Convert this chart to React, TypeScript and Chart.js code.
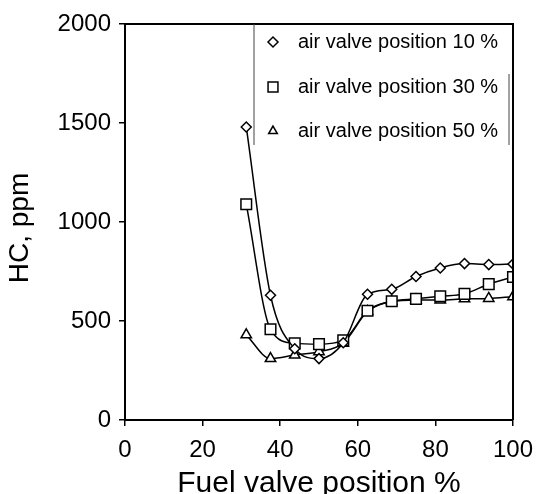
import React, { useEffect, useRef } from "react";
import { Chart, registerables } from "chart.js";

Chart.register(...registerables);

const fuelValve = [31.25, 37.5, 43.75, 50, 56.25, 62.5, 68.75, 75, 81.25, 87.5, 93.75, 100];
const hcAir10 = [1480, 630, 360, 310, 390, 635, 660, 725, 768, 790, 785, 788];
const hcAir30 = [1090, 458, 387, 383, 402, 552, 600, 612, 625, 637, 686, 722];
const hcAir50 = [430, 310, 328, 345, 388, 548, 598, 606, 606, 612, 614, 623];
const seriesLabels = ["air valve position 10 %", "air valve position 30 %", "air valve position 50 %"];
const markerStyles = ["rectRot", "rect", "triangle"];
const xTitle = "Fuel valve position %";
const yTitle = "HC, ppm";

const FONT = "'Liberation Sans', Arial, sans-serif";

function drawMarker(ctx: CanvasRenderingContext2D, style: string, x: number, y: number, r: number) {
  ctx.beginPath();
  if (style === "rectRot") {
    ctx.moveTo(x - r, y);
    ctx.lineTo(x, y - r);
    ctx.lineTo(x + r, y);
    ctx.lineTo(x, y + r);
    ctx.closePath();
  } else if (style === "rect") {
    const s = r * Math.SQRT1_2;
    ctx.rect(x - s, y - s, 2 * s, 2 * s);
  } else {
    const a = (2 * Math.PI) / 3;
    ctx.moveTo(x, y - r);
    ctx.lineTo(x + Math.sin(a) * r, y - Math.cos(a) * r);
    ctx.lineTo(x + Math.sin(2 * a) * r, y - Math.cos(2 * a) * r);
    ctx.closePath();
  }
  ctx.fillStyle = "#fff";
  ctx.fill();
  ctx.stroke();
}

const framePlugin = {
  id: "frameAndLegend",
  afterDraw(chart: any) {
    const { ctx, chartArea } = chart;
    const { left, right, top, bottom } = chartArea;
    ctx.save();
    ctx.strokeStyle = "#000";
    ctx.lineWidth = 2;
    ctx.beginPath();
    ctx.moveTo(left, top);
    ctx.lineTo(right, top);
    ctx.lineTo(right, bottom);
    ctx.stroke();

    // y axis title
    ctx.save();
    ctx.translate(20, 228);
    ctx.rotate(-Math.PI / 2);
    ctx.font = `28px ${FONT}`;
    ctx.textAlign = "center";
    ctx.textBaseline = "middle";
    ctx.fillStyle = "#000";
    ctx.fillText(yTitle, 0, 0);
    ctx.restore();

    // legend box
    const lx = left + 129;
    const lr = right - 4;
    const lb = top + 121;
    ctx.lineWidth = 1;
    ctx.strokeStyle = "#444";
    ctx.beginPath();
    ctx.moveTo(lx, top);
    ctx.lineTo(lx, lb);
    ctx.moveTo(lr, top + 50);
    ctx.lineTo(lr, lb);
    ctx.stroke();

    const rows = [top + 18, top + 63, top + 107];
    const radii = [5, 7, 5];
    ctx.font = `20px ${FONT}`;
    ctx.textBaseline = "middle";
    ctx.textAlign = "left";
    ctx.strokeStyle = "#000";
    ctx.lineWidth = 1.5;
    rows.forEach((ry, i) => {
      drawMarker(ctx, markerStyles[i], lx + 19, ry, radii[i]);
      ctx.fillStyle = "#000";
      ctx.fillText(seriesLabels[i], lx + 44, ry);
    });
    ctx.restore();
  },
};

export default function App() {
  const ref = useRef<HTMLCanvasElement>(null);
  useEffect(() => {
    document.body.style.margin = "0";
    const mk = (ys: number[]) => fuelValve.map((x, i) => ({ x, y: ys[i] }));
    const common = {
      showLine: true,
      borderColor: "#000",
      borderWidth: 1.5,
      pointBackgroundColor: "#fff",
      pointBorderColor: "#000",
      pointBorderWidth: 1.5,
      cubicInterpolationMode: "monotone" as const,
      fill: false,
    };
    const chart = new Chart(ref.current!, {
      type: "scatter",
      data: {
        datasets: [
          { ...common, label: seriesLabels[0], data: mk(hcAir10), pointStyle: "rectRot", pointRadius: 5 },
          { ...common, label: seriesLabels[1], data: mk(hcAir30), pointStyle: "rect", pointRadius: 7.5 },
          { ...common, label: seriesLabels[2], data: mk(hcAir50), pointStyle: "triangle", pointRadius: 6 },
        ],
      },
      options: {
        responsive: false,
        animation: false,
        layout: { padding: { top: 24, right: 24, left: 0, bottom: 0 } },
        plugins: { legend: { display: false }, tooltip: { enabled: false } },
        scales: {
          x: {
            type: "linear",
            min: 0,
            max: 100,
            ticks: { stepSize: 20, color: "#000", font: { family: FONT, size: 24 }, padding: 10, maxRotation: 0, callback: (v: any) => String(v) },
            grid: { drawOnChartArea: false, tickLength: 6, color: "#000", lineWidth: 1.5 },
            border: { color: "#000", width: 2 },
            title: { display: true, text: xTitle, color: "#000", font: { family: FONT, size: 30, lineHeight: 0.7 }, padding: 0 },
            afterFit: (s: any) => { s.height = 74; s.paddingLeft = 0; s.paddingRight = 0; },
          },
          y: {
            type: "linear",
            min: 0,
            max: 2000,
            ticks: { stepSize: 500, color: "#000", font: { family: FONT, size: 24 }, padding: 8, callback: (v: any) => String(v) },
            grid: { drawOnChartArea: false, tickLength: 6, color: "#000", lineWidth: 1.5 },
            border: { color: "#000", width: 2 },
            title: { display: false },
            afterFit: (s: any) => { s.width = 125; s.paddingTop = 0; s.paddingBottom = 0; },
          },
        },
      },
      plugins: [framePlugin],
    });
    return () => chart.destroy();
  }, []);
  return (
    <div style={{ width: 537, height: 494, background: "#fff" }}>
      <canvas ref={ref} width={537} height={494} style={{ display: "block" }} />
    </div>
  );
}
